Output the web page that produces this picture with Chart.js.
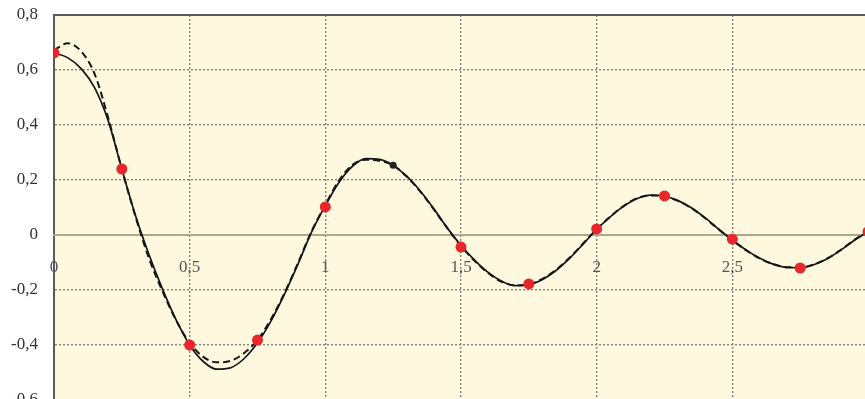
<!DOCTYPE html>
<html>
<head>
<meta charset="utf-8">
<script src="https://cdn.jsdelivr.net/npm/chart.js@4"></script>
<style>
  html, body { margin: 0; padding: 0; background: #fff; overflow: hidden; width: 865px; height: 399px; }
  #c { position: absolute; left: 0; top: 0; }
</style>
</head>
<body>
<canvas id="c" width="880" height="412" style="width:880px;height:412px"></canvas>
<script>
// sample positions along t
const tValues = [
  0.00, 0.05, 0.10, 0.15, 0.20, 0.25, 0.30, 0.35, 0.40, 0.45,
  0.50, 0.55, 0.60, 0.65, 0.70, 0.75, 0.80, 0.85, 0.90, 0.95,
  1.00, 1.05, 1.10, 1.15, 1.20, 1.25, 1.30, 1.35, 1.40, 1.45,
  1.50, 1.55, 1.60, 1.65, 1.70, 1.75, 1.80, 1.85, 1.90, 1.95,
  2.00, 2.05, 2.10, 2.15, 2.20, 2.25, 2.30, 2.35, 2.40, 2.45,
  2.50, 2.55, 2.60, 2.65, 2.70, 2.75, 2.80, 2.85, 2.90, 2.95,
  3.00
];

// exact response (solid curve)
const exactResponse = [
  0.662, 0.645, 0.605, 0.535, 0.415, 0.240, 0.072, -0.071, -0.197, -0.309,
  -0.400, -0.460, -0.488, -0.483, -0.450, -0.392, -0.312, -0.214, -0.104, 0.012,
  0.107, 0.191, 0.250, 0.278, 0.275, 0.253, 0.214, 0.160, 0.095, 0.025,
  -0.038, -0.091, -0.136, -0.168, -0.184, -0.181, -0.162, -0.129, -0.085, -0.033,
  0.020, 0.066, 0.105, 0.133, 0.145, 0.141, 0.125, 0.098, 0.062, 0.021,
  -0.018, -0.054, -0.084, -0.106, -0.118, -0.119, -0.108, -0.086, -0.055, -0.019,
  0.012
];

// approximate response (dashed curve)
const approxResponse = [
  0.672, 0.697, 0.668, 0.585, 0.425, 0.240, 0.068, -0.085, -0.205, -0.310,
  -0.392, -0.443, -0.463, -0.458, -0.430, -0.382, -0.305, -0.210, -0.100, 0.015,
  0.110, 0.198, 0.255, 0.274, 0.270, 0.254, 0.212, 0.158, 0.093, 0.024,
  -0.040, -0.094, -0.138, -0.170, -0.183, -0.179, -0.160, -0.127, -0.083, -0.031,
  0.021, 0.067, 0.106, 0.134, 0.144, 0.140, 0.124, 0.097, 0.061, 0.020,
  -0.019, -0.055, -0.085, -0.106, -0.117, -0.118, -0.107, -0.085, -0.054, -0.018,
  0.013
];

// measured nodes (red markers)
const nodeT = [0, 0.25, 0.5, 0.75, 1, 1.5, 1.75, 2, 2.25, 2.5, 2.75, 3];
const nodeY = [0.662, 0.240, -0.400, -0.382, 0.102, -0.044, -0.178, 0.022, 0.142, -0.015, -0.120, 0.012];

// single reference node (black marker)
const refT = [1.25];
const refY = [0.254];

const toPoints = (xs, ys) => xs.map((x, i) => ({ x: x, y: ys[i] }));
const fmt = v => {
  if (Math.abs(v) < 1e-9) return '0';
  return (Math.round(v * 10) / 10).toString().replace('.', ',');
};

// the plot area may run past the canvas edges, so scale label overhang is not reserved
const noOverhang = scale => {
  scale.paddingTop = 0; scale.paddingBottom = 0;
  scale.paddingLeft = 0; scale.paddingRight = 0;
};

const plotBackground = {
  id: 'plotBackground',
  beforeDraw(chart) {
    const { ctx, chartArea: a } = chart;
    ctx.save();
    ctx.fillStyle = '#fdf8de';
    ctx.fillRect(a.left, a.top, a.right - a.left, a.bottom - a.top);
    ctx.restore();
  }
};

const gridGrey = '#86847a';

new Chart(document.getElementById('c'), {
  type: 'line',
  data: {
    datasets: [
      {
        data: toPoints(nodeT, nodeY),
        showLine: false,
        pointRadius: 5.5,
        pointBackgroundColor: '#e8262c',
        pointBorderWidth: 0,
        xAxisID: 'x', yAxisID: 'y'
      },
      {
        data: toPoints(refT, refY),
        showLine: false,
        pointRadius: 3.5,
        pointBackgroundColor: '#222',
        pointBorderWidth: 0,
        xAxisID: 'x', yAxisID: 'y'
      },
      {
        data: toPoints(tValues, approxResponse),
        borderColor: '#161616',
        borderWidth: 2,
        borderDash: [7, 4],
        pointRadius: 0,
        cubicInterpolationMode: 'monotone',
        xAxisID: 'x', yAxisID: 'y'
      },
      {
        data: toPoints(tValues, exactResponse),
        borderColor: '#161616',
        borderWidth: 1.7,
        pointRadius: 0,
        cubicInterpolationMode: 'monotone',
        xAxisID: 'x', yAxisID: 'y'
      }
    ]
  },
  options: {
    responsive: false,
    animation: false,
    devicePixelRatio: 1,
    layout: { padding: { left: 0, top: 15, right: 12, bottom: 12 } },
    plugins: { legend: { display: false }, tooltip: { enabled: false } },
    scales: {
      y: {
        type: 'linear',
        position: 'left',
        min: -0.6,
        max: 0.8,
        afterFit(scale) { scale.width = 54; noOverhang(scale); },
        ticks: {
          stepSize: 0.2,
          padding: 16,
          color: '#333',
          font: { family: 'Liberation Serif', size: 17 },
          callback: v => fmt(v)
        },
        grid: {
          drawTicks: false,
          color: ctx => (ctx.tick && Math.abs(ctx.tick.value) < 1e-9) ? 'rgba(0,0,0,0)' : gridGrey,
          lineWidth: 1.4
        },
        border: { display: true, color: '#5a5a5a', width: 2, dash: [2, 2] }
      },
      x: {
        type: 'linear',
        position: { y: 0 },
        min: 0,
        max: 3,
        afterFit: noOverhang,
        ticks: {
          stepSize: 0.5,
          padding: 22,
          color: '#555',
          font: { family: 'Liberation Serif', size: 17 },
          maxRotation: 0,
          callback: v => (v >= 3 ? '' : fmt(v))
        },
        grid: { drawTicks: false, color: gridGrey, lineWidth: 1.4 },
        border: { display: true, color: '#aca88f', width: 2, dash: [2, 2] }
      },
      xTop: {
        type: 'linear',
        position: { y: 0.8 },
        min: 0,
        max: 3,
        afterFit: noOverhang,
        ticks: { display: false },
        grid: { display: false, drawTicks: false },
        border: { display: true, color: '#5a5a5a', width: 2 }
      }
    }
  },
  plugins: [plotBackground]
});
</script>
</body>
</html>
